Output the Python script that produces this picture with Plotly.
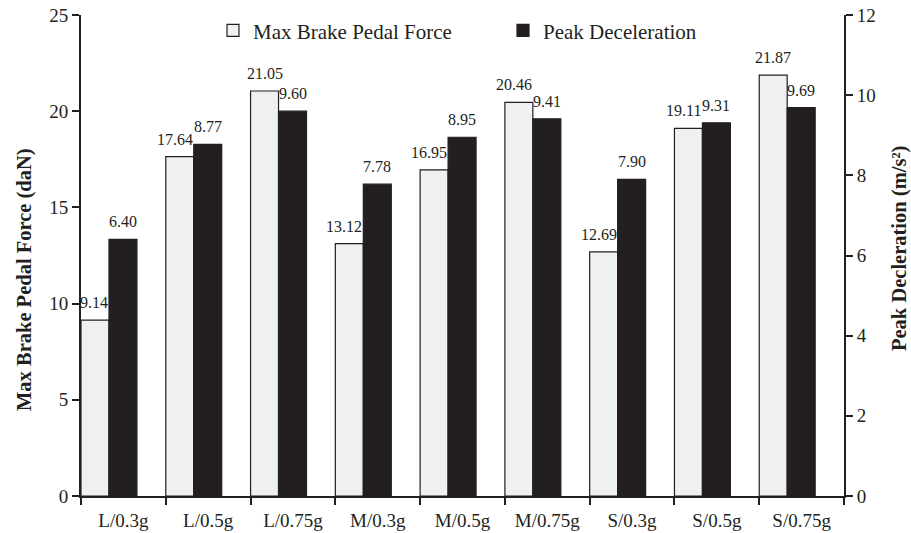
import plotly.graph_objects as go

categories = ["L/0.3g", "L/0.5g", "L/0.75g", "M/0.3g", "M/0.5g", "M/0.75g", "S/0.3g", "S/0.5g", "S/0.75g"]
max_brake_force = [9.14, 17.64, 21.05, 13.12, 16.95, 20.46, 12.69, 19.11, 21.87]
peak_deceleration = [6.40, 8.77, 9.60, 7.78, 8.95, 9.41, 7.90, 9.31, 9.69]
left_ticks = [0, 5, 10, 15, 20, 25]
right_ticks = [0, 2, 4, 6, 8, 10, 12]

FONT = "Liberation Serif"
INK = "#231F20"
BAR_W = 0.33
LEFT_MAX, RIGHT_MAX = 25, 12

# plot-area geometry (px) used for label placement
L_MARGIN, R_MARGIN, T_MARGIN, B_MARGIN = 81, 67, 15, 37
W, H = 911, 533
PLOT_W = W - L_MARGIN - R_MARGIN
PLOT_H = H - T_MARGIN - B_MARGIN
CAT_PX = PLOT_W / len(categories)

fig = go.Figure()
fig.add_trace(go.Bar(
    x=categories, y=max_brake_force, name="Max Brake Pedal Force",
    marker=dict(color="#EFF0F2", line=dict(color=INK, width=1.2)),
    width=BAR_W, offset=-0.5, yaxis="y",
))
fig.add_trace(go.Bar(
    x=categories, y=peak_deceleration, name="Peak Deceleration",
    marker=dict(color=INK, line=dict(color=INK, width=1.2)),
    width=BAR_W, offset=-0.5 + BAR_W, yaxis="y2",
))

annotations = []
light_center = (-0.5 + BAR_W / 2) * CAT_PX
dark_center = (-0.5 + BAR_W * 1.5) * CAT_PX
light_right = (-0.5 + BAR_W) * CAT_PX
for cat, f, d in zip(categories, max_brake_force, peak_deceleration):
    f_px = f / LEFT_MAX * PLOT_H
    d_px = d / RIGHT_MAX * PLOT_H
    if f_px - d_px > 18:
        ann_light = dict(xanchor="center", xshift=light_center)
    else:
        ann_light = dict(xanchor="right", xshift=light_right + 1)
    annotations.append(dict(x=cat, y=f, xref="x", yref="y", text=f"{f:.2f}",
                            showarrow=False, yanchor="bottom", yshift=7,
                            font=dict(family=FONT, size=16, color=INK), **ann_light))
    annotations.append(dict(x=cat, y=d, xref="x", yref="y2", text=f"{d:.2f}",
                            showarrow=False, yanchor="bottom", yshift=7,
                            xanchor="center", xshift=dark_center,
                            font=dict(family=FONT, size=16, color=INK)))

annotations += [
    dict(text="<b>Max Brake Pedal Force (daN)</b>", xref="paper", yref="paper",
         x=(24 - L_MARGIN) / PLOT_W, y=(496 - 280) / PLOT_H, textangle=-90, showarrow=False,
         xanchor="center", yanchor="middle",
         font=dict(family=FONT, size=20.5, color=INK)),
    dict(text="<b>Peak Decleration (m/s²)</b>", xref="paper", yref="paper",
         x=(899 - L_MARGIN) / PLOT_W, y=(496 - 249) / PLOT_H, textangle=-90, showarrow=False,
         xanchor="center", yanchor="middle",
         font=dict(family=FONT, size=20.5, color=INK)),
]

axis_common = dict(showline=True, linecolor=INK, linewidth=2, ticks="outside",
                   ticklen=7, tickwidth=2, tickcolor=INK, showgrid=False,
                   zeroline=False, automargin=False,
                   tickfont=dict(family=FONT, size=19, color=INK))

fig.update_layout(
    width=W, height=H,
    margin=dict(l=L_MARGIN, r=R_MARGIN, t=T_MARGIN, b=B_MARGIN, autoexpand=False),
    paper_bgcolor="white", plot_bgcolor="white",
    font=dict(family=FONT, size=18, color=INK),
    barmode="overlay",
    showlegend=True,
    legend=dict(orientation="h", x=(213 - L_MARGIN) / PLOT_W, xanchor="left", y=1.01,
                yanchor="top", font=dict(family=FONT, size=21, color=INK),
                bgcolor="rgba(0,0,0,0)", itemwidth=30, entrywidth=245),
    xaxis=dict(type="category", range=[-0.5, 8.5], tickson="boundaries",
               ticklabelstandoff=6, **axis_common),
    yaxis=dict(range=[0, LEFT_MAX], tickvals=left_ticks, **axis_common),
    yaxis2=dict(range=[0, RIGHT_MAX], tickvals=right_ticks, overlaying="y", side="right",
                **axis_common),
    annotations=annotations,
)

fig.write_html("out.html", config={"displayModeBar": False},
               post_script="document.body.style.margin='0';")
